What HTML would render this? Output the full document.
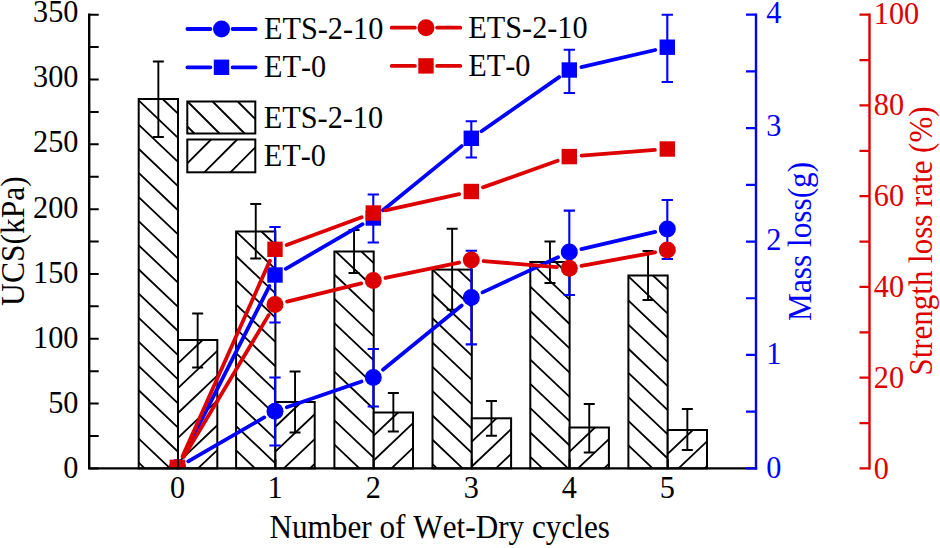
<!DOCTYPE html>
<html><head><meta charset="utf-8"><title>chart</title>
<style>
html,body{margin:0;padding:0;background:#fff;}
body{width:940px;height:548px;overflow:hidden;font-family:"Liberation Serif",serif;}
svg text{font-family:"Liberation Serif",serif;font-kerning:none;}
</style></head><body>
<svg width="940" height="548" viewBox="0 0 940 548" style="display:block;font-family:'Liberation Serif', serif;font-size:32px">
<rect width="940" height="548" fill="#fff"/>
<defs><clipPath id="plot"><rect x="89.20" y="0" width="666.80" height="468.40"/></clipPath></defs>
<rect x="138.70" y="99.00" width="39.30" height="369.40" fill="#fff" stroke="none"/>
<path d="M162.58 99.00L178.00 113.65 M138.70 100.46L178.00 137.80 M138.70 124.61L178.00 161.95 M138.70 148.76L178.00 186.10 M138.70 172.91L178.00 210.25 M138.70 197.06L178.00 234.40 M138.70 221.21L178.00 258.55 M138.70 245.36L178.00 282.70 M138.70 269.51L178.00 306.85 M138.70 293.66L178.00 331.00 M138.70 317.81L178.00 355.15 M138.70 341.97L178.00 379.30 M138.70 366.12L178.00 403.45 M138.70 390.26L178.00 427.60 M138.70 414.41L178.00 451.75 M138.70 438.56L170.11 468.40 M138.70 462.71L144.68 468.40" stroke="#000" stroke-width="1.80" fill="none"/>
<rect x="138.70" y="99.00" width="39.30" height="369.40" fill="none" stroke="#000" stroke-width="2"/>
<rect x="178.00" y="340.00" width="39.30" height="128.40" fill="#fff" stroke="none"/>
<path d="M178.00 363.40L202.63 340.00 M178.00 388.20L217.30 350.86 M178.00 413.00L217.30 375.66 M178.00 437.80L217.30 400.46 M178.00 462.60L217.30 425.26 M198.00 468.40L217.30 450.06" stroke="#000" stroke-width="1.80" fill="none"/>
<rect x="178.00" y="340.00" width="39.30" height="128.40" fill="none" stroke="#000" stroke-width="2"/>
<rect x="236.10" y="231.50" width="39.30" height="236.90" fill="#fff" stroke="none"/>
<path d="M261.47 231.50L275.40 244.73 M236.10 231.69L275.40 269.03 M236.10 255.99L275.40 293.33 M236.10 280.29L275.40 317.63 M236.10 304.59L275.40 341.93 M236.10 328.89L275.40 366.23 M236.10 353.19L275.40 390.53 M236.10 377.50L275.40 414.83 M236.10 401.79L275.40 439.13 M236.10 426.10L275.40 463.43 M236.10 450.39L255.05 468.40" stroke="#000" stroke-width="1.80" fill="none"/>
<rect x="236.10" y="231.50" width="39.30" height="236.90" fill="none" stroke="#000" stroke-width="2"/>
<rect x="275.40" y="402.00" width="39.30" height="66.40" fill="#fff" stroke="none"/>
<path d="M275.40 426.77L301.47 402.00 M275.40 451.57L314.70 414.23 M283.79 468.40L314.70 439.03 M309.89 468.40L314.70 463.83" stroke="#000" stroke-width="1.80" fill="none"/>
<rect x="275.40" y="402.00" width="39.30" height="66.40" fill="none" stroke="#000" stroke-width="2"/>
<rect x="334.40" y="251.50" width="39.30" height="216.90" fill="#fff" stroke="none"/>
<path d="M361.37 251.50L373.70 263.21 M335.79 251.50L373.70 287.51 M334.40 274.48L373.70 311.81 M334.40 298.78L373.70 336.11 M334.40 323.08L373.70 360.41 M334.40 347.38L373.70 384.71 M334.40 371.68L373.70 409.01 M334.40 395.98L373.70 433.31 M334.40 420.28L373.70 457.61 M334.40 444.58L359.47 468.40" stroke="#000" stroke-width="1.80" fill="none"/>
<rect x="334.40" y="251.50" width="39.30" height="216.90" fill="none" stroke="#000" stroke-width="2"/>
<rect x="373.70" y="412.50" width="39.30" height="55.90" fill="#fff" stroke="none"/>
<path d="M373.70 435.69L398.11 412.50 M373.70 460.49L413.00 423.15 M391.47 468.40L413.00 447.95" stroke="#000" stroke-width="1.80" fill="none"/>
<rect x="373.70" y="412.50" width="39.30" height="55.90" fill="none" stroke="#000" stroke-width="2"/>
<rect x="432.50" y="269.60" width="39.30" height="198.80" fill="#fff" stroke="none"/>
<path d="M458.00 269.60L471.80 282.71 M432.50 269.68L471.80 307.01 M432.50 293.98L471.80 331.31 M432.50 318.27L471.80 355.61 M432.50 342.57L471.80 379.91 M432.50 366.88L471.80 404.21 M432.50 391.18L471.80 428.51 M432.50 415.48L471.80 452.81 M432.50 439.77L462.63 468.40 M432.50 464.07L437.05 468.40" stroke="#000" stroke-width="1.80" fill="none"/>
<rect x="432.50" y="269.60" width="39.30" height="198.80" fill="none" stroke="#000" stroke-width="2"/>
<rect x="471.80" y="418.30" width="39.30" height="50.10" fill="#fff" stroke="none"/>
<path d="M471.80 441.69L496.42 418.30 M471.80 466.49L511.10 429.15 M495.89 468.40L511.10 453.95" stroke="#000" stroke-width="1.80" fill="none"/>
<rect x="471.80" y="418.30" width="39.30" height="50.10" fill="none" stroke="#000" stroke-width="2"/>
<rect x="530.30" y="262.00" width="39.30" height="206.40" fill="#fff" stroke="none"/>
<path d="M555.47 262.00L569.60 275.42 M530.30 262.39L569.60 299.72 M530.30 286.69L569.60 324.02 M530.30 310.99L569.60 348.32 M530.30 335.29L569.60 372.62 M530.30 359.59L569.60 396.92 M530.30 383.89L569.60 421.22 M530.30 408.19L569.60 445.52 M530.30 432.49L568.11 468.40 M530.30 456.79L542.53 468.40" stroke="#000" stroke-width="1.80" fill="none"/>
<rect x="530.30" y="262.00" width="39.30" height="206.40" fill="none" stroke="#000" stroke-width="2"/>
<rect x="569.60" y="427.50" width="39.30" height="40.90" fill="#fff" stroke="none"/>
<path d="M569.60 451.58L594.95 427.50 M578.00 468.40L608.90 439.04 M604.11 468.40L608.90 463.85" stroke="#000" stroke-width="1.80" fill="none"/>
<rect x="569.60" y="427.50" width="39.30" height="40.90" fill="none" stroke="#000" stroke-width="2"/>
<rect x="628.40" y="275.50" width="39.30" height="192.90" fill="#fff" stroke="none"/>
<path d="M653.00 275.50L667.70 289.47 M628.40 276.28L667.70 313.62 M628.40 300.43L667.70 337.76 M628.40 324.58L667.70 361.91 M628.40 348.73L667.70 386.06 M628.40 372.88L667.70 410.21 M628.40 397.03L667.70 434.37 M628.40 421.18L667.70 458.51 M628.40 445.33L652.68 468.40" stroke="#000" stroke-width="1.80" fill="none"/>
<rect x="628.40" y="275.50" width="39.30" height="192.90" fill="none" stroke="#000" stroke-width="2"/>
<rect x="667.70" y="430.00" width="39.30" height="38.40" fill="#fff" stroke="none"/>
<path d="M667.70 453.88L692.84 430.00 M678.53 468.40L707.00 441.35 M704.63 468.40L707.00 466.15" stroke="#000" stroke-width="1.80" fill="none"/>
<rect x="667.70" y="430.00" width="39.30" height="38.40" fill="none" stroke="#000" stroke-width="2"/>
<path d="M158.35 61.50V137.00M152.85 61.50H163.85M152.85 137.00H163.85" stroke="#000" stroke-width="1.90" fill="none"/>
<path d="M197.65 313.50V367.50M192.15 313.50H203.15M192.15 367.50H203.15" stroke="#000" stroke-width="1.90" fill="none"/>
<path d="M255.75 204.00V258.50M250.25 204.00H261.25M250.25 258.50H261.25" stroke="#000" stroke-width="1.90" fill="none"/>
<path d="M295.05 371.50V432.50M289.55 371.50H300.55M289.55 432.50H300.55" stroke="#000" stroke-width="1.90" fill="none"/>
<path d="M354.05 230.00V273.00M348.55 230.00H359.55M348.55 273.00H359.55" stroke="#000" stroke-width="1.90" fill="none"/>
<path d="M393.35 393.00V431.50M387.85 393.00H398.85M387.85 431.50H398.85" stroke="#000" stroke-width="1.90" fill="none"/>
<path d="M452.15 228.80V309.80M446.65 228.80H457.65M446.65 309.80H457.65" stroke="#000" stroke-width="1.90" fill="none"/>
<path d="M491.45 401.00V435.70M485.95 401.00H496.95M485.95 435.70H496.95" stroke="#000" stroke-width="1.90" fill="none"/>
<path d="M549.95 241.50V283.00M544.45 241.50H555.45M544.45 283.00H555.45" stroke="#000" stroke-width="1.90" fill="none"/>
<path d="M589.25 404.00V452.50M583.75 404.00H594.75M583.75 452.50H594.75" stroke="#000" stroke-width="1.90" fill="none"/>
<path d="M648.05 251.00V300.00M642.55 251.00H653.55M642.55 300.00H653.55" stroke="#000" stroke-width="1.90" fill="none"/>
<path d="M687.35 409.00V450.00M681.85 409.00H692.85M681.85 450.00H692.85" stroke="#000" stroke-width="1.90" fill="none"/>
<g clip-path="url(#plot)">
<line x1="188.24" y1="461.30" x2="264.26" y2="417.40" stroke="#0000ff" stroke-width="3.80" stroke-linecap="round"/>
<line x1="286.73" y1="407.18" x2="361.57" y2="381.52" stroke="#0000ff" stroke-width="3.80" stroke-linecap="round"/>
<line x1="382.91" y1="369.66" x2="461.69" y2="305.44" stroke="#0000ff" stroke-width="3.80" stroke-linecap="round"/>
<line x1="482.54" y1="292.37" x2="558.06" y2="257.23" stroke="#0000ff" stroke-width="3.80" stroke-linecap="round"/>
<line x1="581.37" y1="249.17" x2="655.23" y2="231.83" stroke="#0000ff" stroke-width="3.80" stroke-linecap="round"/>
<path d="M275.00 377.50V445.50M269.35 377.50H280.65M269.35 445.50H280.65" stroke="#0000ff" stroke-width="2.10" fill="none"/>
<path d="M373.30 349.00V406.50M367.65 349.00H378.95M367.65 406.50H378.95" stroke="#0000ff" stroke-width="2.10" fill="none"/>
<path d="M471.30 250.80V344.40M465.65 250.80H476.95M465.65 344.40H476.95" stroke="#0000ff" stroke-width="2.10" fill="none"/>
<path d="M569.30 210.60V295.00M563.65 210.60H574.95M563.65 295.00H574.95" stroke="#0000ff" stroke-width="2.10" fill="none"/>
<path d="M667.30 200.00V259.00M661.65 200.00H672.95M661.65 259.00H672.95" stroke="#0000ff" stroke-width="2.10" fill="none"/>
<circle cx="177.50" cy="467.50" r="8.50" fill="#0000ff"/>
<circle cx="275.00" cy="411.20" r="8.50" fill="#0000ff"/>
<circle cx="373.30" cy="377.50" r="8.50" fill="#0000ff"/>
<circle cx="471.30" cy="297.60" r="8.50" fill="#0000ff"/>
<circle cx="569.30" cy="252.00" r="8.50" fill="#0000ff"/>
<circle cx="667.30" cy="229.00" r="8.50" fill="#0000ff"/>
<line x1="183.10" y1="456.44" x2="269.40" y2="286.06" stroke="#0000ff" stroke-width="3.80" stroke-linecap="round"/>
<line x1="285.73" y1="268.78" x2="362.57" y2="224.22" stroke="#0000ff" stroke-width="3.80" stroke-linecap="round"/>
<line x1="382.92" y1="210.18" x2="461.68" y2="146.12" stroke="#0000ff" stroke-width="3.80" stroke-linecap="round"/>
<line x1="481.47" y1="131.21" x2="559.13" y2="77.09" stroke="#0000ff" stroke-width="3.80" stroke-linecap="round"/>
<line x1="581.38" y1="67.19" x2="655.22" y2="50.01" stroke="#0000ff" stroke-width="3.80" stroke-linecap="round"/>
<path d="M275.00 227.00V322.50M269.35 227.00H280.65M269.35 322.50H280.65" stroke="#0000ff" stroke-width="2.10" fill="none"/>
<path d="M373.30 194.50V242.50M367.65 194.50H378.95M367.65 242.50H378.95" stroke="#0000ff" stroke-width="2.10" fill="none"/>
<path d="M471.30 121.30V157.50M465.65 121.30H476.95M465.65 157.50H476.95" stroke="#0000ff" stroke-width="2.10" fill="none"/>
<path d="M569.30 49.80V93.00M563.65 49.80H574.95M563.65 93.00H574.95" stroke="#0000ff" stroke-width="2.10" fill="none"/>
<path d="M667.30 14.80V82.00M661.65 14.80H672.95M661.65 82.00H672.95" stroke="#0000ff" stroke-width="2.10" fill="none"/>
<rect x="169.80" y="459.80" width="15.40" height="15.40" fill="#0000ff"/>
<rect x="267.30" y="267.30" width="15.40" height="15.40" fill="#0000ff"/>
<rect x="365.60" y="210.30" width="15.40" height="15.40" fill="#0000ff"/>
<rect x="463.60" y="130.60" width="15.40" height="15.40" fill="#0000ff"/>
<rect x="561.60" y="62.30" width="15.40" height="15.40" fill="#0000ff"/>
<rect x="659.60" y="39.50" width="15.40" height="15.40" fill="#0000ff"/>
<line x1="183.87" y1="456.86" x2="268.63" y2="315.14" stroke="#dd0000" stroke-width="3.80" stroke-linecap="round"/>
<line x1="287.05" y1="301.56" x2="361.25" y2="283.44" stroke="#dd0000" stroke-width="3.80" stroke-linecap="round"/>
<line x1="385.44" y1="277.96" x2="459.16" y2="262.54" stroke="#dd0000" stroke-width="3.80" stroke-linecap="round"/>
<line x1="483.66" y1="261.03" x2="556.94" y2="267.17" stroke="#dd0000" stroke-width="3.80" stroke-linecap="round"/>
<line x1="581.49" y1="265.94" x2="655.11" y2="252.26" stroke="#dd0000" stroke-width="3.80" stroke-linecap="round"/>
<circle cx="177.50" cy="467.50" r="8.50" fill="#dd0000"/>
<circle cx="275.00" cy="304.50" r="8.50" fill="#dd0000"/>
<circle cx="373.30" cy="280.50" r="8.50" fill="#dd0000"/>
<circle cx="471.30" cy="260.00" r="8.50" fill="#dd0000"/>
<circle cx="569.30" cy="268.20" r="8.50" fill="#dd0000"/>
<circle cx="667.30" cy="250.00" r="8.50" fill="#dd0000"/>
<line x1="182.56" y1="456.18" x2="269.94" y2="260.62" stroke="#dd0000" stroke-width="3.80" stroke-linecap="round"/>
<line x1="286.63" y1="245.00" x2="361.67" y2="217.30" stroke="#dd0000" stroke-width="3.80" stroke-linecap="round"/>
<line x1="385.41" y1="210.34" x2="459.19" y2="194.16" stroke="#dd0000" stroke-width="3.80" stroke-linecap="round"/>
<line x1="482.98" y1="187.34" x2="557.62" y2="160.76" stroke="#dd0000" stroke-width="3.80" stroke-linecap="round"/>
<line x1="581.66" y1="155.64" x2="654.94" y2="149.96" stroke="#dd0000" stroke-width="3.80" stroke-linecap="round"/>
<rect x="169.80" y="459.80" width="15.40" height="15.40" fill="#dd0000"/>
<rect x="267.30" y="241.60" width="15.40" height="15.40" fill="#dd0000"/>
<rect x="365.60" y="205.30" width="15.40" height="15.40" fill="#dd0000"/>
<rect x="463.60" y="183.80" width="15.40" height="15.40" fill="#dd0000"/>
<rect x="561.60" y="148.90" width="15.40" height="15.40" fill="#dd0000"/>
<rect x="659.60" y="141.30" width="15.40" height="15.40" fill="#dd0000"/>
</g>
<path d="M89.20 14.70V468.40H756.00" stroke="#000" stroke-width="2.4" fill="none" stroke-linecap="square"/>
<path d="M89.20 468.40H98.70M89.20 435.99H98.70M89.20 403.59H98.70M89.20 371.18H98.70M89.20 338.77H98.70M89.20 306.36H98.70M89.20 273.96H98.70M89.20 241.55H98.70M89.20 209.14H98.70M89.20 176.74H98.70M89.20 144.33H98.70M89.20 111.92H98.70M89.20 79.51H98.70M89.20 47.11H98.70M89.20 14.70H98.70M178.00 468.40V458.90M275.40 468.40V458.90M373.70 468.40V458.90M471.80 468.40V458.90M569.60 468.40V458.90M667.70 468.40V458.90" stroke="#000" stroke-width="2" fill="none"/>
<text transform="translate(78.40 477.90) scale(0.9460 1)" text-anchor="end" fill="#000">0</text>
<text transform="translate(78.40 412.81) scale(0.9460 1)" text-anchor="end" fill="#000">50</text>
<text transform="translate(78.40 347.73) scale(0.9460 1)" text-anchor="end" fill="#000">100</text>
<text transform="translate(78.40 282.64) scale(0.9460 1)" text-anchor="end" fill="#000">150</text>
<text transform="translate(78.40 217.56) scale(0.9460 1)" text-anchor="end" fill="#000">200</text>
<text transform="translate(78.40 152.47) scale(0.9460 1)" text-anchor="end" fill="#000">250</text>
<text transform="translate(78.40 87.39) scale(0.9460 1)" text-anchor="end" fill="#000">300</text>
<text transform="translate(78.40 22.30) scale(0.9460 1)" text-anchor="end" fill="#000">350</text>
<text transform="translate(177.50 498.00) scale(0.9460 1)" text-anchor="middle" fill="#000">0</text>
<text transform="translate(275.00 498.00) scale(0.9460 1)" text-anchor="middle" fill="#000">1</text>
<text transform="translate(373.30 498.00) scale(0.9460 1)" text-anchor="middle" fill="#000">2</text>
<text transform="translate(471.30 498.00) scale(0.9460 1)" text-anchor="middle" fill="#000">3</text>
<text transform="translate(569.30 498.00) scale(0.9460 1)" text-anchor="middle" fill="#000">4</text>
<text transform="translate(667.30 498.00) scale(0.9460 1)" text-anchor="middle" fill="#000">5</text>
<text transform="translate(439.70 537.60) scale(0.9460 1)" text-anchor="middle" fill="#000" font-size="33">Number of Wet-Dry cycles</text>
<text transform="translate(23.90 241.00) rotate(-90) scale(0.9570 1)" text-anchor="middle" fill="#000" font-size="33">UCS(kPa)</text>
<path d="M756.00 14.70V468.40" stroke="#0000ff" stroke-width="2.4" fill="none" stroke-linecap="square"/>
<path d="M756.00 468.40H746.00M756.00 411.69H746.00M756.00 354.97H746.00M756.00 298.26H746.00M756.00 241.55H746.00M756.00 184.84H746.00M756.00 128.12H746.00M756.00 71.41H746.00M756.00 14.70H746.00" stroke="#0000ff" stroke-width="2.2" fill="none"/>
<text transform="translate(766.20 478.00) scale(0.9460 1)" text-anchor="start" fill="#0000ff">0</text>
<text transform="translate(766.20 364.12) scale(0.9460 1)" text-anchor="start" fill="#0000ff">1</text>
<text transform="translate(766.20 250.25) scale(0.9460 1)" text-anchor="start" fill="#0000ff">2</text>
<text transform="translate(766.20 136.38) scale(0.9460 1)" text-anchor="start" fill="#0000ff">3</text>
<text transform="translate(766.20 22.50) scale(0.9460 1)" text-anchor="start" fill="#0000ff">4</text>
<text transform="translate(811.00 241.40) rotate(-90) scale(0.9480 1)" text-anchor="middle" fill="#0000ff" font-size="33">Mass loss(g)</text>
<path d="M869.50 14.70V468.40" stroke="#dd0000" stroke-width="2.4" fill="none" stroke-linecap="square"/>
<path d="M869.50 468.40H859.50M869.50 423.03H859.50M869.50 377.66H859.50M869.50 332.29H859.50M869.50 286.92H859.50M869.50 241.55H859.50M869.50 196.18H859.50M869.50 150.81H859.50M869.50 105.44H859.50M869.50 60.07H859.50M869.50 14.70H859.50" stroke="#dd0000" stroke-width="2.2" fill="none"/>
<text transform="translate(873.80 479.00) scale(0.9460 1)" text-anchor="start" fill="#dd0000">0</text>
<text transform="translate(873.80 388.00) scale(0.9460 1)" text-anchor="start" fill="#dd0000">20</text>
<text transform="translate(873.80 297.00) scale(0.9460 1)" text-anchor="start" fill="#dd0000">40</text>
<text transform="translate(873.80 206.00) scale(0.9460 1)" text-anchor="start" fill="#dd0000">60</text>
<text transform="translate(873.80 115.00) scale(0.9460 1)" text-anchor="start" fill="#dd0000">80</text>
<text transform="translate(873.80 24.00) scale(0.9460 1)" text-anchor="start" fill="#dd0000">100</text>
<text transform="translate(931.50 241.00) rotate(-90) scale(0.9380 1)" text-anchor="middle" fill="#dd0000" font-size="33">Strength loss rate (%)</text>
<path d="M187.40 29.00H210.40M232.60 29.00H255.60" stroke="#0000ff" stroke-width="3.80" stroke-linecap="round" fill="none"/>
<circle cx="221.50" cy="29.00" r="8.50" fill="#0000ff"/>
<path d="M187.40 67.30H210.40M232.60 67.30H255.60" stroke="#0000ff" stroke-width="3.80" stroke-linecap="round" fill="none"/>
<rect x="213.80" y="59.60" width="15.40" height="15.40" fill="#0000ff"/>
<text transform="translate(264.00 39.10) scale(0.9460 1)" text-anchor="start" fill="#000">ETS-2-10</text>
<text transform="translate(264.00 77.30) scale(0.9460 1)" text-anchor="start" fill="#000">ET-0</text>
<path d="M391.70 27.70H414.90M437.10 27.70H460.30" stroke="#dd0000" stroke-width="3.80" stroke-linecap="round" fill="none"/>
<circle cx="426.00" cy="27.70" r="8.50" fill="#dd0000"/>
<path d="M391.70 65.90H414.90M437.10 65.90H460.30" stroke="#dd0000" stroke-width="3.80" stroke-linecap="round" fill="none"/>
<rect x="418.30" y="58.20" width="15.40" height="15.40" fill="#dd0000"/>
<text transform="translate(468.30 38.00) scale(0.9460 1)" text-anchor="start" fill="#000">ETS-2-10</text>
<text transform="translate(468.30 76.20) scale(0.9460 1)" text-anchor="start" fill="#000">ET-0</text>
<rect x="187.30" y="101.50" width="68.00" height="32.00" fill="#fff"/>
<path d="M237.70 101.50L255.30 119.10 M212.60 101.50L244.60 133.50 M187.50 101.50L219.50 133.50 M187.30 126.40L194.40 133.50" stroke="#000" stroke-width="1.80" fill="none"/>
<rect x="187.30" y="101.50" width="68.00" height="32.00" fill="none" stroke="#000" stroke-width="2"/>
<rect x="187.30" y="139.50" width="68.00" height="32.80" fill="#fff"/>
<path d="M187.30 163.30L211.10 139.50 M204.35 172.30L237.15 139.50 M230.40 172.30L255.30 147.40" stroke="#000" stroke-width="1.80" fill="none"/>
<rect x="187.30" y="139.50" width="68.00" height="32.80" fill="none" stroke="#000" stroke-width="2"/>
<text transform="translate(263.80 127.80) scale(0.9460 1)" text-anchor="start" fill="#000">ETS-2-10</text>
<text transform="translate(263.80 165.80) scale(0.9460 1)" text-anchor="start" fill="#000">ET-0</text>
</svg>
</body></html>
